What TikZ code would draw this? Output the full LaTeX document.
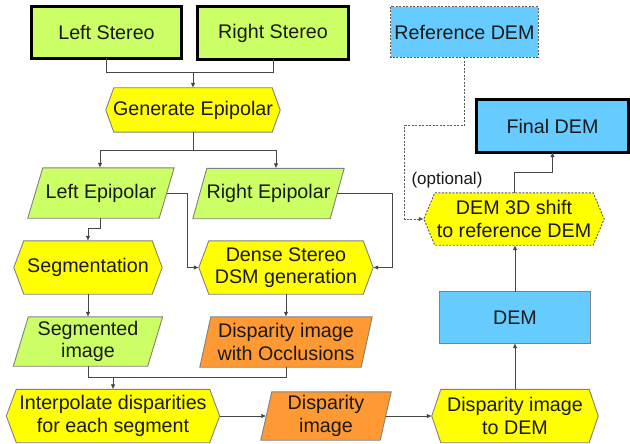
\documentclass[tikz,border=0pt]{standalone}
\usepackage{fontspec}
\setmainfont{Liberation Sans}
\usetikzlibrary{arrows.meta,backgrounds}
\definecolor{cgreen}{RGB}{204,255,102}
\definecolor{cyellow}{RGB}{255,255,0}
\definecolor{corange}{RGB}{255,153,51}
\definecolor{cblue}{RGB}{102,204,255}
\definecolor{cborder}{RGB}{128,128,128}
\definecolor{cline}{RGB}{70,70,70}
\definecolor{ctext}{RGB}{25,25,25}
\newcommand{\parashape}[3]{\path[#3] ([xshift=#2]#1.north west) -- ([xshift=#2]#1.north east) -- ([xshift=-#2]#1.south east) -- ([xshift=-#2]#1.south west) -- cycle;}
\newcommand{\hexshape}[3]{\path[#3] ([xshift=#2]#1.north west) -- ([xshift=-#2]#1.north east) -- (#1.east) -- ([xshift=-#2]#1.south east) -- ([xshift=#2]#1.south west) -- (#1.west) -- cycle;}
\newcommand{\boxshape}[2]{\path[#2] (#1.north west) rectangle (#1.south east);}
\tikzset{
  base/.style={font=\fontsize{19.7}{22.5}\selectfont, align=center, inner sep=0pt, text=ctext},
  thin border/.style={draw=cborder, line width=0.9pt},
  thick border/.style={draw=black, line width=3pt},
  dash border/.style={draw=black!65, line width=0.9pt, dash pattern=on 2pt off 1.5pt},
  cn/.style={draw=cline, line width=0.8pt, -{Latex[length=5pt,width=4.5pt]}},
  cnplain/.style={draw=cline, line width=0.8pt},
  cndash/.style={draw=black!65, line width=0.8pt, dash pattern=on 2pt off 1.5pt, -{Latex[length=5pt,width=4.5pt]}},
}
\begin{document}
\begin{tikzpicture}[x=1pt,y=-1pt]
\useasboundingbox (0,0) rectangle (630,444);
% nodes
\node[base, minimum width=149pt, minimum height=51pt] (ls) at (106.5,32.5) {Left Stereo};
\node[base, minimum width=150pt, minimum height=52pt] (rs) at (273,33) {Right Stereo};
\node[base, minimum width=174pt, minimum height=44pt] (ge) at (193,110) {Generate Epipolar};
\node[base, minimum width=131pt, minimum height=50pt] (le) at (101,193) {Left Epipolar};
\node[base, minimum width=137pt, minimum height=50pt] (re) at (268.5,193.5) {Right Epipolar};
\node[base, minimum width=148pt, minimum height=53pt] (seg) at (88,267.5) {Segmentation};
\node[base, minimum width=174pt, minimum height=53pt] (ds) at (286,267.5) {Dense Stereo\\DSM generation};
\node[base, minimum width=134pt, minimum height=49pt] (si) at (88,341.5) {Segmented\\image};
\node[base, minimum width=161pt, minimum height=50pt] (dio) at (286,342) {Disparity image\\with Occlusions};
\node[base, minimum width=213pt, minimum height=53pt] (ip) at (113,416) {Interpolate disparities\\for each segment};
\node[base, minimum width=119pt, minimum height=48pt] (di) at (326,416) {Disparity\\image};
\node[base, minimum width=166pt, minimum height=53pt] (dtd) at (515,416) {Disparity image\\to DEM};
\node[base, minimum width=150pt, minimum height=51pt] (dem) at (515,317.5) {DEM};
\node[base, minimum width=180pt, minimum height=52pt] (sh) at (514,219) {DEM 3D shift\\to reference DEM};
\node[base, minimum width=151pt, minimum height=52pt] (fin) at (552.5,126) {Final DEM};
\node[base, minimum width=147pt, minimum height=50pt] (ref) at (464.5,32) {Reference DEM};
\node[base, font=\fontsize{17}{20}\selectfont] (opt) at (447,180) {(optional)};
% shapes
\begin{pgfonlayer}{background}
\boxshape{ls}{fill=cgreen, thick border}
\boxshape{rs}{fill=cgreen, thick border}
\hexshape{ge}{8pt}{fill=cyellow, thin border}
\parashape{le}{7.5pt}{fill=cgreen, thin border}
\parashape{re}{7pt}{fill=cgreen, thin border}
\hexshape{seg}{10pt}{fill=cyellow, thin border}
\hexshape{ds}{10pt}{fill=cyellow, thin border}
\parashape{si}{7.5pt}{fill=cgreen, thin border}
\parashape{dio}{5.5pt}{fill=corange, thin border}
\hexshape{ip}{10pt}{fill=cyellow, thin border}
\parashape{di}{5.5pt}{fill=corange, thin border}
\hexshape{dtd}{9pt}{fill=cyellow, thin border}
\boxshape{dem}{fill=cblue, thin border}
\hexshape{sh}{11pt}{fill=cyellow, dash border}
\boxshape{fin}{fill=cblue, thick border}
\boxshape{ref}{fill=cblue, dash border}
\end{pgfonlayer}
% connectors
\draw[cnplain] (ls.south) -- ++(0,14) coordinate (j0) -| (rs.south);
\draw[cn] (ge.north |- j0) -- (ge.north);
\draw[cnplain] (ge.south) -- ++(0,18) coordinate (j1);
\draw[cn] (j1) -| ([xshift=-1pt]le.north);
\draw[cn] (j1) -| ([xshift=7.5pt]re.north);
\draw[cn] ([xshift=-1pt]le.south) -- ++(0,10) -| (seg.north);
\draw[cn] (le.east) -- ++(21,0) |- (ds.west);
\draw[cn] (re.east) -- ++(55,0) |- (ds.east);
\draw[cn] (seg.south) -- (si.north);
\draw[cn] (ds.south) -- (dio.north);
\draw[cnplain] (si.south) -- ++(0,11) coordinate (j2) -| (dio.south);
\draw[cn] (ip.north |- j2) -- (ip.north);
\draw[cn] (ip.east) -- (di.west);
\draw[cn] (di.east) -- (dtd.west);
\draw[cn] (dtd.north) -- (dem.south);
\draw[cn] (dem.north) -- (dem.north |- sh.south);
\draw[cn] (sh.north) -- ++(0,-20) -| (fin.south);
\draw[cndash] (ref.south) -- ++(0,68) -- ++(-60,0) |- (sh.west);
\end{tikzpicture}
\end{document}
